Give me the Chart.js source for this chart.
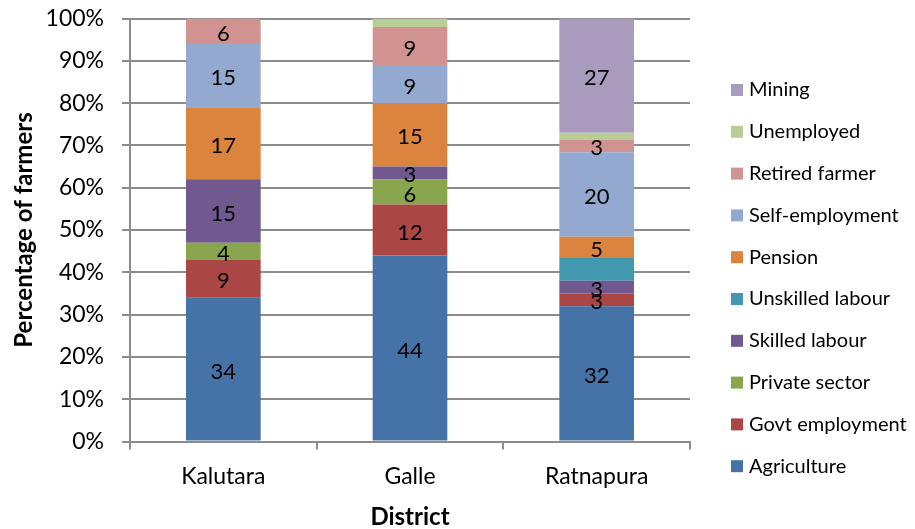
<!DOCTYPE html>
<html>
<head>
<meta charset="utf-8">
<title>Secondary income of farmers by district</title>
<script src="https://cdn.jsdelivr.net/npm/chart.js@4"></script>
<style>
  html, body { margin: 0; padding: 0; background: #ffffff; }
  canvas { display: block; }
</style>
</head>
<body>
<canvas id="chart" width="915" height="529"></canvas>
<script>
// Districts on the category axis
const districts = ['Kalutara', 'Galle', 'Ratnapura'];

// Share of farmers (%) in each income source, per district
const agriculture     = [34, 44, 32];
const govtEmployment  = [9, 12, 3];
const privateSector   = [4, 6, 0];
const skilledLabour   = [15, 3, 3];
const unskilledLabour = [0, 0, 5.4];
const pension         = [17, 15, 5];
const selfEmployment  = [15, 9, 20];
const retiredFarmer   = [6, 9, 3];
const unemployed      = [0, 2, 1.6];
const mining          = [0, 0, 27];

// Value axis tick labels
const percentTicks = ['0%', '10%', '20%', '30%', '40%', '50%', '60%', '70%', '80%', '90%', '100%'];

// Series in stacking order (bottom to top); colours and value-label flags kept apart from the numbers
const series = [
  { label: 'Agriculture',       data: agriculture,     color: '#4572A7', showValues: true },
  { label: 'Govt employment',   data: govtEmployment,  color: '#AA4643', showValues: true },
  { label: 'Private sector',    data: privateSector,   color: '#89A54E', showValues: true },
  { label: 'Skilled labour',    data: skilledLabour,   color: '#71588F', showValues: true },
  { label: 'Unskilled labour',  data: unskilledLabour, color: '#4198AF', showValues: false },
  { label: 'Pension',           data: pension,         color: '#DB843D', showValues: true },
  { label: 'Self-employment',   data: selfEmployment,  color: '#93A9CF', showValues: true },
  { label: 'Retired farmer',    data: retiredFarmer,   color: '#D19392', showValues: true },
  { label: 'Unemployed',        data: unemployed,      color: '#B9CD96', showValues: false },
  { label: 'Mining',            data: mining,          color: '#A99BBD', showValues: true }
];

const FONT = 'Lato';
const GRID = '#8c8c8c';
const TEXT = '#000000';

// Writes each segment's value in the middle of the segment
const segmentValues = {
  id: 'segmentValues',
  afterDatasetsDraw(chart, args, opts) {
    const ctx = chart.ctx;
    ctx.save();
    ctx.font = opts.font;
    ctx.fillStyle = opts.color;
    ctx.textAlign = 'center';
    ctx.textBaseline = 'middle';
    chart.data.datasets.forEach((ds, di) => {
      if (!ds.showValues) return;
      const meta = chart.getDatasetMeta(di);
      if (meta.hidden) return;
      meta.data.forEach((bar, i) => {
        const v = ds.data[i];
        if (!v) return;
        const p = bar.getProps(['x', 'y', 'base'], true);
        ctx.fillText(String(v), p.x, (p.y + p.base) / 2 + opts.dy);
      });
    });
    ctx.restore();
  }
};

// Legend column on the right, top entry = top of the stack
const sideLegend = {
  id: 'sideLegend',
  afterDraw(chart, args, opts) {
    const ctx = chart.ctx;
    const area = chart.chartArea;
    const items = chart.data.datasets.slice().reverse();
    ctx.save();
    ctx.font = opts.font;
    ctx.textAlign = 'left';
    ctx.textBaseline = 'middle';
    const x = area.right + opts.offsetX;
    items.forEach((ds, row) => {
      const y = opts.top + row * opts.step;
      ctx.fillStyle = ds.backgroundColor;
      ctx.fillRect(x, y - opts.box / 2, opts.box, opts.box);
      ctx.fillStyle = opts.color;
      ctx.fillText(ds.label, x + opts.box + opts.gap, y + opts.textDy);
    });
    ctx.restore();
  }
};

function build() {
  new Chart(document.getElementById('chart'), {
    type: 'bar',
    data: {
      labels: districts,
      datasets: series.map(s => ({
        label: s.label,
        data: s.data,
        backgroundColor: s.color,
        borderWidth: 0,
        showValues: s.showValues,
        barPercentage: 0.4,
        categoryPercentage: 1
      }))
    },
    options: {
      responsive: false,
      animation: false,
      layout: { padding: { top: 18.5, right: 225, bottom: 0, left: 0 } },
      plugins: {
        legend: { display: false },
        tooltip: { enabled: false },
        segmentValues: { font: '22px ' + FONT, color: TEXT, dy: 2.5 },
        sideLegend: {
          font: '20px ' + FONT, color: TEXT,
          offsetX: 41, top: 90, step: 41.8, box: 12, gap: 6, textDy: 0
        }
      },
      scales: {
        x: {
          stacked: true,
          grid: { offset: true, drawOnChartArea: false, drawTicks: true, tickLength: 8, color: GRID, lineWidth: 2 },
          border: { display: true, color: GRID, width: 2 },
          ticks: { font: { family: FONT, size: 23 }, color: TEXT, padding: 13, maxRotation: 0 },
          title: {
            display: true, text: 'District', color: TEXT,
            font: { family: FONT, size: 24, weight: 'bold', lineHeight: 1.0 }, padding: { top: 0, bottom: 0 }
          },
          afterFit(scale) { scale.height = 87.5; }
        },
        y: {
          stacked: true,
          min: 0,
          max: 100,
          grid: { color: GRID, lineWidth: 2, tickLength: 8 },
          border: { display: true, color: GRID, width: 2 },
          ticks: {
            stepSize: 10,
            font: { family: FONT, size: 23 },
            color: TEXT,
            padding: 18,
            callback: (v, i) => percentTicks[i]
          },
          title: {
            display: true, text: 'Percentage of farmers', color: TEXT,
            font: { family: FONT, size: 24, weight: 'bold', lineHeight: 1.2 }, padding: { top: 10, bottom: 0 }
          },
          afterFit(scale) {
            scale.width = 130;
            scale.paddingTop = 0;
            scale.paddingBottom = 0;
          }
        }
      }
    },
    plugins: [segmentValues, sideLegend]
  });
}

Promise.all([
  document.fonts.load('22px ' + FONT),
  document.fonts.load('bold 24px ' + FONT)
]).then(build, build);
</script>
</body>
</html>
